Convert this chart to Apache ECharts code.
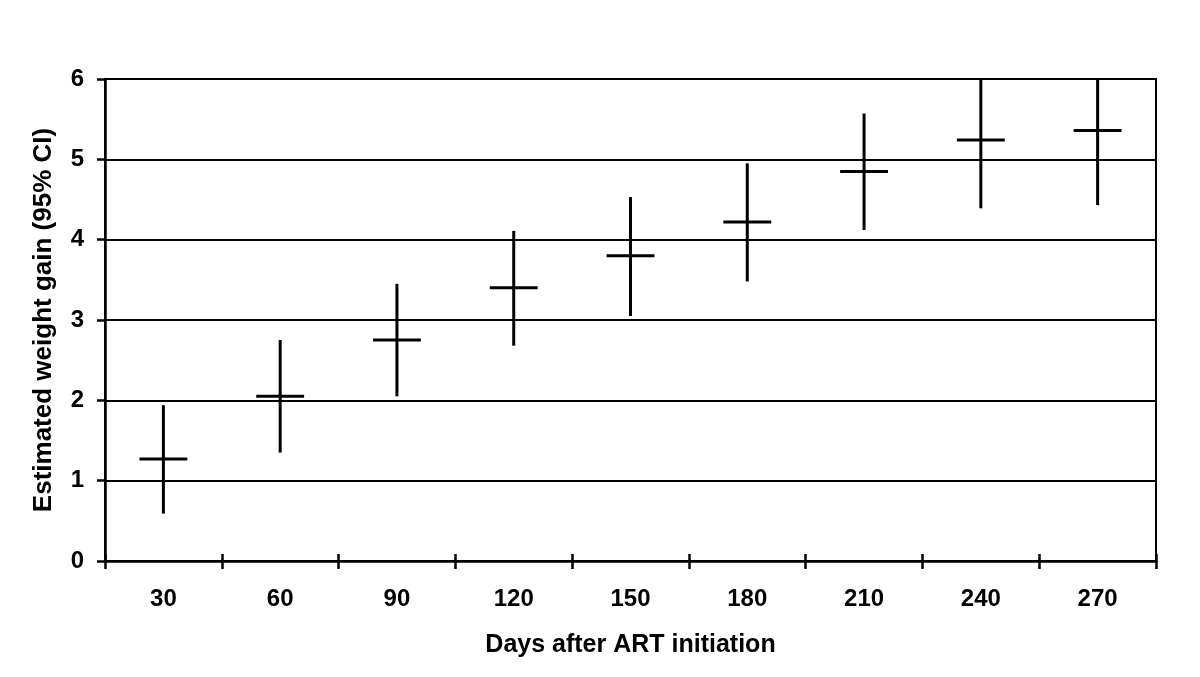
<!DOCTYPE html>
<html>
<head>
<meta charset="utf-8">
<script src="https://cdn.jsdelivr.net/npm/echarts@6/dist/echarts.min.js"></script>
<style>
html,body{margin:0;padding:0;background:#fff;}
#c{width:1200px;height:677px;}
</style>
</head>
<body>
<div id="c"></div>
<script>
var categories = ['30', '60', '90', '120', '150', '180', '210', '240', '270'];
var estimate = [1.27, 2.05, 2.75, 3.40, 3.80, 4.22, 4.85, 5.24, 5.36];
var lower = [0.59, 1.35, 2.05, 2.68, 3.05, 3.48, 4.12, 4.39, 4.43];
var upper = [1.94, 2.75, 3.45, 4.11, 4.53, 4.95, 5.57, 6.09, 6.29];
var yTicks = [0, 1, 2, 3, 4, 5, 6];

var chart = echarts.init(document.getElementById('c'), null, {renderer: 'canvas'});
var font = '"Liberation Sans", Arial, sans-serif';
var dataRows = categories.map(function (c, i) { return [i, estimate[i], lower[i], upper[i]]; });

chart.setOption({
  animation: false,
  backgroundColor: '#fff',
  grid: {left: 105, right: 44, top: 79, bottom: 116, show: true, borderColor: '#000', borderWidth: 2, backgroundColor: 'transparent'},
  xAxis: [{
    type: 'category',
    data: categories,
    boundaryGap: true,
    axisLine: {show: true, lineStyle: {color: '#000', width: 2.5}},
    axisTick: {show: true, alignWithLabel: false, length: 8, lineStyle: {color: '#000', width: 2.5}},
    axisLabel: {color: '#000', fontFamily: font, fontWeight: 'bold', fontSize: 24, margin: 26},
    name: 'Days after ART initiation',
    nameLocation: 'middle',
    nameGap: 72,
    nameTextStyle: {color: '#000', fontFamily: font, fontWeight: 'bold', fontSize: 25}
  }, {
    type: 'category',
    data: categories,
    position: 'bottom',
    boundaryGap: true,
    axisLine: {show: false},
    axisTick: {show: true, inside: true, length: 7, lineStyle: {color: '#000', width: 2.5}},
    axisLabel: {show: false}
  }],
  yAxis: {
    type: 'value',
    min: yTicks[0],
    max: yTicks[yTicks.length - 1],
    interval: 1,
    axisLine: {show: true, lineStyle: {color: '#000', width: 2.5}},
    axisTick: {show: true, length: 8, lineStyle: {color: '#000', width: 2.5}},
    splitLine: {show: true, lineStyle: {color: '#000', width: 2}},
    axisLabel: {color: '#000', fontFamily: font, fontWeight: 'bold', fontSize: 24, margin: 21},
    name: 'Estimated weight gain (95% CI)',
    nameLocation: 'middle',
    nameGap: 48,
    nameRotate: 90,
    nameTextStyle: {color: '#000', fontFamily: font, fontWeight: 'bold', fontSize: 26}
  },
  series: [{
    type: 'custom',
    clip: true,
    data: dataRows,
    encode: {x: 0, y: [1, 2, 3]},
    renderItem: function (params, api) {
      var x = api.value(0);
      var est = api.coord([x, api.value(1)]);
      var lo = api.coord([x, api.value(2)]);
      var hi = api.coord([x, api.value(3)]);
      var half = api.size([1, 0])[0] * 0.205;
      var style = {stroke: '#000', lineWidth: 3};
      return {
        type: 'group',
        children: [
          {type: 'line', shape: {x1: lo[0], y1: lo[1], x2: hi[0], y2: hi[1]}, style: style},
          {type: 'line', shape: {x1: est[0] - half, y1: est[1], x2: est[0] + half, y2: est[1]}, style: style}
        ]
      };
    }
  }]
});
</script>
</body>
</html>
